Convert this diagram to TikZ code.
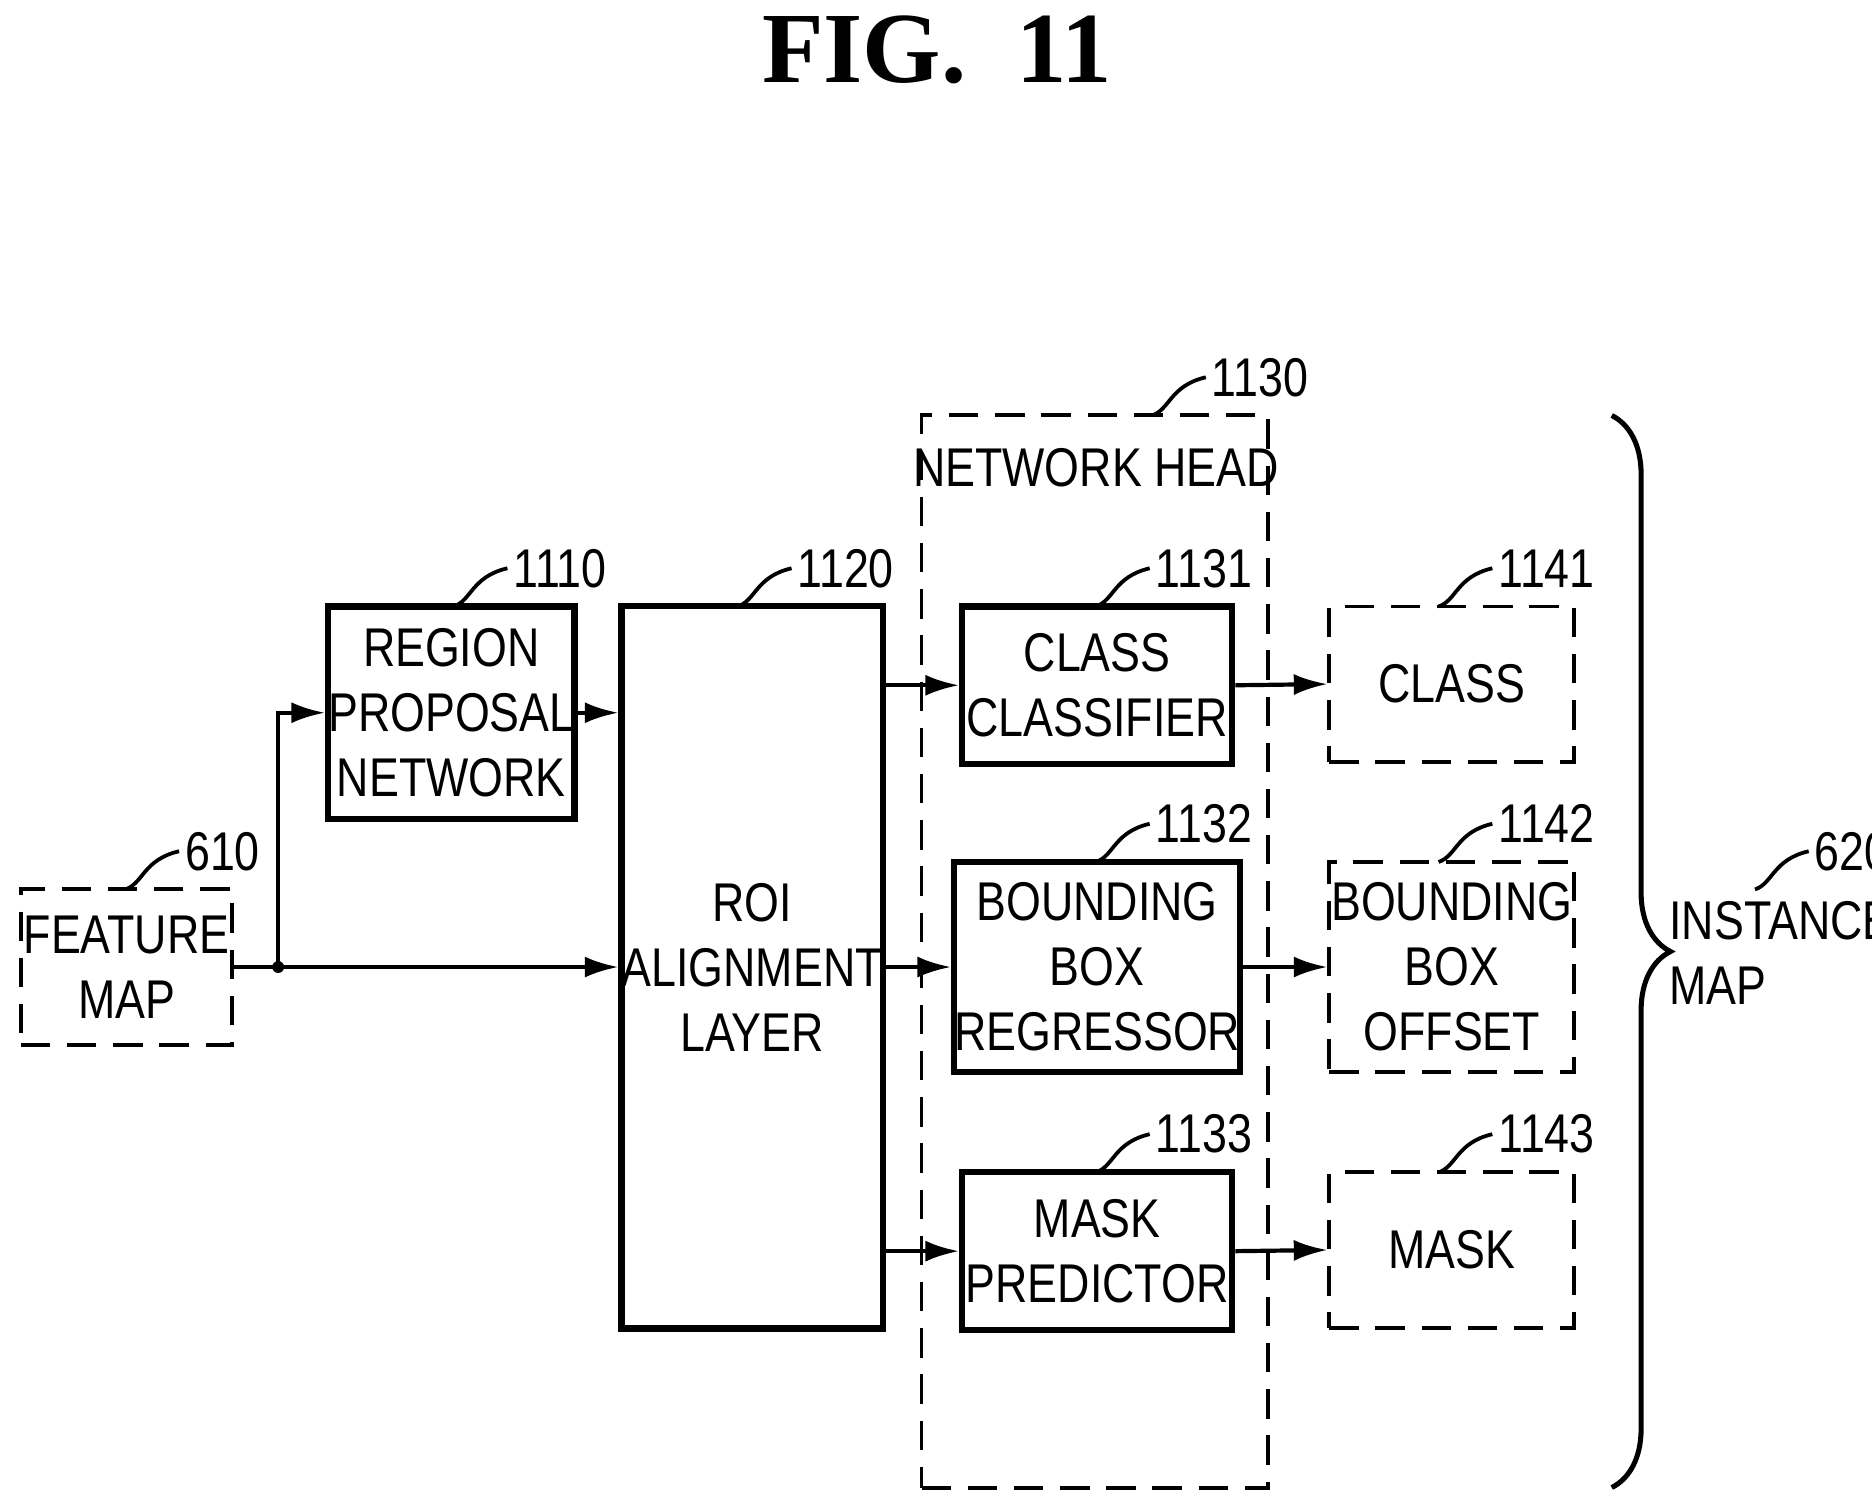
\documentclass[tikz,border=0pt]{standalone}
\usepackage{fontspec}
\setmainfont[FakeStretch=0.82]{Liberation Sans}
\newfontfamily\titlefont{Liberation Serif}
\usetikzlibrary{arrows.meta,decorations.pathreplacing}
\tikzset{
  blk/.style={draw,line width=1.5pt,align=center,inner sep=0pt,font=\fontsize{13}{15.5}\selectfont},
  outbox/.style={draw,dashed,line width=0.9pt,dash pattern=on 7pt off 4pt,align=center,inner sep=0pt,font=\fontsize{13}{15.5}\selectfont},
  conn/.style={line width=1pt,-{Latex[length=8pt,width=5pt]}},
  lbl/.style={font=\fontsize{13}{15}\selectfont,right,inner sep=1pt}
}
\newcommand{\refno}[3]{\draw[line width=0.9pt] (#1,#2) .. controls (#1+15,#2-5) and (#1+15,#2-25) .. (#1+45,#2-32) node[lbl] {#3};}
\begin{document}
\begin{tikzpicture}[x=0.01cm,y=-0.01cm]
\useasboundingbox (0,0) rectangle (1568,1264);
\node[font=\titlefont\bfseries\fontsize{24}{26}\selectfont] (title) at (785,42) {FIG.\ \ 11};
% blocks
\node[outbox,minimum width=1.77cm,minimum height=1.30cm] (fmap) at (106,810) {FEATURE\\MAP};
\node[blk,minimum width=1.87cm,minimum height=1.78cm] (rpn) at (378,597) {REGION\\PROPOSAL\\NETWORK};
\node[blk,minimum width=2.17cm,minimum height=6.05cm] (roi) at (630,810) {ROI\\ALIGNMENT\\LAYER};
\node[draw,dashed,line width=0.9pt,dash pattern=on 7pt off 4pt,minimum width=2.90cm,minimum height=8.98cm,inner sep=0pt] (head) at (917,797) {};
\node[font=\fontsize{13}{15}\selectfont] (headtxt) at (918,392) {NETWORK HEAD};
\node[blk,minimum width=2.26cm,minimum height=1.32cm] (cls) at (919,574) {CLASS\\CLASSIFIER};
\node[blk,minimum width=2.26cm,minimum height=1.76cm] (bbr) at (919,810) {BOUNDING\\BOX\\REGRESSOR};
\node[blk,minimum width=2.26cm,minimum height=1.32cm] (msk) at (919,1048) {MASK\\PREDICTOR};
\node[outbox,minimum width=2.05cm,minimum height=1.30cm] (ocls) at (1216,573) {CLASS};
\node[outbox,minimum width=2.05cm,minimum height=1.76cm] (obbo) at (1216,810) {BOUNDING\\BOX\\OFFSET};
\node[outbox,minimum width=2.05cm,minimum height=1.30cm] (omsk) at (1216,1047) {MASK};
% connectors
\coordinate (jn) at (233,810);
\fill (jn) circle (5);
\draw[conn] (fmap.east) -- (roi.west |- jn);
\draw[conn] (jn) |- (rpn.west);
\draw[conn] (rpn.east) -- (roi.west |- rpn.east);
\foreach \a/\b in {cls/ocls,bbr/obbo,msk/omsk}{
  \draw[conn] (roi.east |- \a) -- (\a.west);
  \draw[conn] (\a.east) -- (\b.west);
}
% brace
\draw[line width=1.2pt,decorate,decoration={brace,amplitude=14pt}] (1350,348) -- (1350,1246);
\node[font=\fontsize{13}{15.5}\selectfont,align=left,anchor=west] (imap) at (1386,798) {INSTANCE\\MAP};
% reference numbers
\refno{105}{745}{610}
\refno{380}{508}{1110}
\refno{618}{508}{1120}
\refno{965}{348}{1130}
\refno{918}{508}{1131}
\refno{918}{722}{1132}
\refno{918}{982}{1133}
\refno{1205}{508}{1141}
\refno{1205}{722}{1142}
\refno{1205}{982}{1143}
\refno{1470}{745}{620}
\end{tikzpicture}
\end{document}
